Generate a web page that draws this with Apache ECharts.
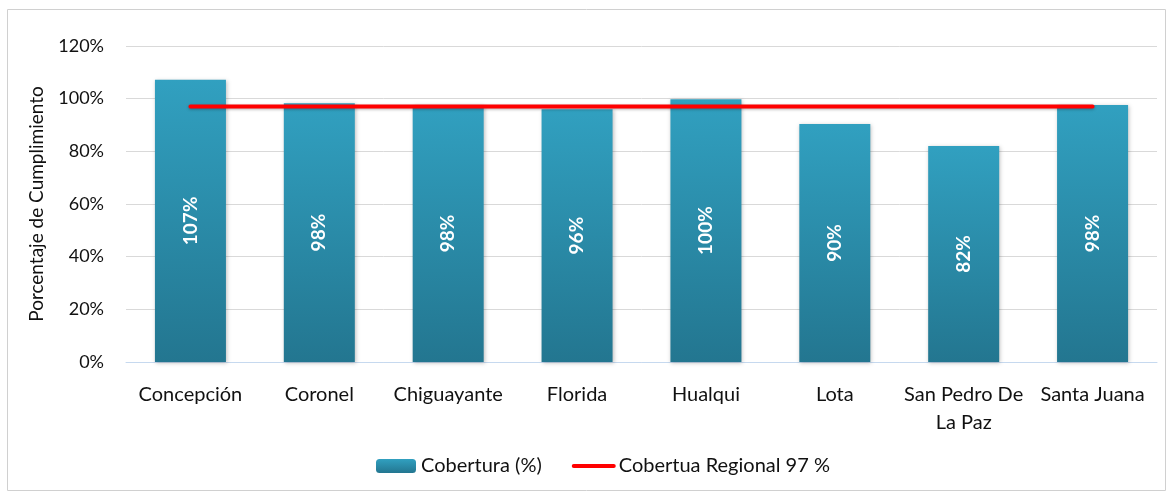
<!DOCTYPE html>
<html>
<head>
<meta charset="utf-8">
<script src="https://cdn.jsdelivr.net/npm/echarts@6/dist/echarts.min.js"></script>
<style>
  html, body { margin: 0; padding: 0; background: #fff; }
  #chart { width: 1170px; height: 493px; }
</style>
</head>
<body>
<div id="chart"></div>
<script>
const comunas = ['Concepción', 'Coronel', 'Chiguayante', 'Florida', 'Hualqui', 'Lota', 'San Pedro De\nLa Paz', 'Santa Juana'];
const cobertura = [107.2, 98.3, 97.6, 96.0, 99.8, 90.4, 82.0, 97.6];
const regional = [97, 97, 97, 97, 97, 97, 97, 97];
const yTicks = [0, 20, 40, 60, 80, 100, 120];

const font = 'Lato, "Open Sans", sans-serif';
const chart = echarts.init(document.getElementById('chart'));

chart.setOption({
  animation: false,
  textStyle: { fontFamily: font },
  graphic: [{
    type: 'rect',
    shape: { x: 7.5, y: 9.5, width: 1158, height: 481 },
    style: { fill: 'none', stroke: '#d0d0d0', lineWidth: 1 }
  }],
  grid: { left: 126, right: 13, top: 46, bottom: 131 },
  legend: {
    bottom: 12,
    left: 371,
    itemWidth: 40,
    itemHeight: 14,
    itemGap: 30,
    textStyle: { fontSize: 20, color: '#111', fontFamily: font },
    data: [
      { name: 'Cobertura (%)' },
      {
        name: 'Cobertua Regional 97 %',
        itemStyle: { color: 'rgba(0,0,0,0)', borderWidth: 0 },
        lineStyle: { color: '#ff0000', width: 4 }
      }
    ]
  },
  xAxis: {
    type: 'category',
    data: comunas,
    axisLine: { lineStyle: { color: '#c6d9ef', width: 1 } },
    axisTick: { show: false },
    axisLabel: { color: '#111', fontSize: 20, margin: 19, lineHeight: 28, interval: 0 }
  },
  yAxis: {
    type: 'value',
    min: yTicks[0],
    max: yTicks[yTicks.length - 1],
    interval: 20,
    name: 'Porcentaje de Cumplimiento',
    nameLocation: 'middle',
    nameGap: 80,
    nameRotate: 90,
    nameTextStyle: { fontSize: 19, color: '#111', fontFamily: font },
    axisLine: { show: false },
    axisTick: { show: false },
    axisLabel: { formatter: '{value}%', color: '#111', fontSize: 18, margin: 22 },
    splitLine: { lineStyle: { color: '#d9d9d9', width: 1 } }
  },
  series: [
    {
      name: 'Cobertura (%)',
      type: 'bar',
      data: cobertura,
      barWidth: 71,
      itemStyle: {
        color: new echarts.graphic.LinearGradient(0, 0, 0, 1, [
          { offset: 0, color: '#31a0c0' },
          { offset: 1, color: '#237690' }
        ]),
        shadowColor: 'rgba(0,0,0,0.25)',
        shadowBlur: 4,
        shadowOffsetX: 1,
        shadowOffsetY: 1
      },
      label: {
        show: true,
        position: 'inside',
        rotate: 90,
        color: '#fff',
        fontSize: 19,
        fontWeight: 'bold',
        fontFamily: font,
        formatter: (p) => Math.round(p.value) + '%'
      },
      z: 2
    },
    {
      name: 'Cobertua Regional 97 %',
      type: 'line',
      data: regional,
      symbol: 'none',
      lineStyle: {
        color: '#ff0000',
        width: 4,
        cap: 'round',
        shadowColor: 'rgba(0,0,0,0.3)',
        shadowBlur: 3,
        shadowOffsetY: 1
      },
      itemStyle: { color: '#ff0000' },
      z: 3
    }
  ]
});
</script>
</body>
</html>
